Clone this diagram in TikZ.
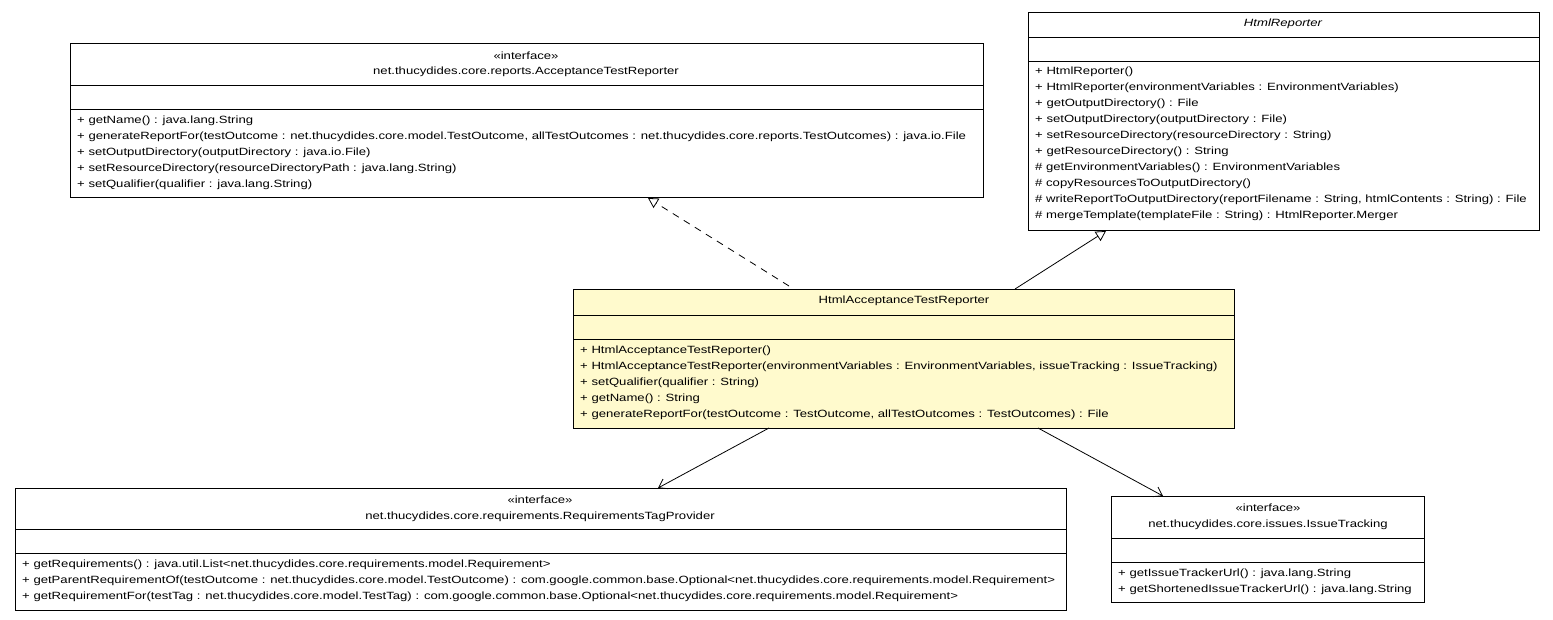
\documentclass[tikz,border=0pt]{standalone}
\usepackage{fontspec}
\setmainfont{Liberation Sans}[FakeStretch=1.25]
\usetikzlibrary{arrows.meta}
\definecolor{cls}{RGB}{255,250,205}
\begin{document}
\begin{tikzpicture}[x=1pt,y=-1pt,
  box/.style={draw,line width=1pt,anchor=north west,inner sep=0pt},
  t/.style={inner sep=0pt,font=\fontsize{10.5}{12}\selectfont},
  m/.style={t,anchor=west},
  dep/.style={-{Straight Barb[length=8pt,width=11pt]},line width=0.8pt},
  gen/.style={-{Triangle[open,length=10pt,width=11pt]},line width=0.8pt}]
\useasboundingbox (0,0) rectangle (1553,619);
% Box 1
\node[box,minimum width=913,minimum height=154] (a) at (70,43) {};
\draw (70,85) -- (983,85) (70,109) -- (983,109);
\node[t] (a1) at (526,56) {«interface»};
\node[t] (a2) at (526,72) {net.thucydides.core.reports.AcceptanceTestReporter};
\node[m] at (77,121) {+ getName() : java.lang.String};
\node[m] at (77,137) {+ generateReportFor(testOutcome : net.thucydides.core.model.TestOutcome, allTestOutcomes : net.thucydides.core.reports.TestOutcomes) : java.io.File};
\node[m] at (77,153) {+ setOutputDirectory(outputDirectory : java.io.File)};
\node[m] at (77,169) {+ setResourceDirectory(resourceDirectoryPath : java.lang.String)};
\node[m] at (77,185) {+ setQualifier(qualifier : java.lang.String)};
% Box 2
\node[box,minimum width=511,minimum height=218] (b) at (1028,12) {};
\draw (1028,37) -- (1539,37) (1028,61) -- (1539,61);
\node[t] at (1283,24) {\itshape HtmlReporter};
\node[m] at (1035,72) {+ HtmlReporter()};
\node[m] at (1035,88) {+ HtmlReporter(environmentVariables : EnvironmentVariables)};
\node[m] at (1035,104) {+ getOutputDirectory() : File};
\node[m] at (1035,120) {+ setOutputDirectory(outputDirectory : File)};
\node[m] at (1035,136) {+ setResourceDirectory(resourceDirectory : String)};
\node[m] at (1035,152) {+ getResourceDirectory() : String};
\node[m] at (1035,168) {\# getEnvironmentVariables() : EnvironmentVariables};
\node[m] at (1035,184) {\# copyResourcesToOutputDirectory()};
\node[m] at (1035,200) {\# writeReportToOutputDirectory(reportFilename : String, htmlContents : String) : File};
\node[m] at (1035,216) {\# mergeTemplate(templateFile : String) : HtmlReporter.Merger};
% Box 3
\node[box,fill=cls,minimum width=661,minimum height=139] (c) at (573,289) {};
\draw (573,315) -- (1234,315) (573,339) -- (1234,339);
\node[t] at (904,301) {HtmlAcceptanceTestReporter};
\node[m] at (580,351) {+ HtmlAcceptanceTestReporter()};
\node[m] at (580,367) {+ HtmlAcceptanceTestReporter(environmentVariables : EnvironmentVariables, issueTracking : IssueTracking)};
\node[m] at (580,383) {+ setQualifier(qualifier : String)};
\node[m] at (580,399) {+ getName() : String};
\node[m] at (580,415) {+ generateReportFor(testOutcome : TestOutcome, allTestOutcomes : TestOutcomes) : File};
% Box 4
\node[box,minimum width=1051,minimum height=122] (d) at (15,488) {};
\draw (15,529) -- (1066,529) (15,553) -- (1066,553);
\node[t] at (540,500) {«interface»};
\node[t] at (540,517) {net.thucydides.core.requirements.RequirementsTagProvider};
\node[m] at (22,565) {+ getRequirements() : java.util.List<net.thucydides.core.requirements.model.Requirement>};
\node[m] at (22,581) {+ getParentRequirementOf(testOutcome : net.thucydides.core.model.TestOutcome) : com.google.common.base.Optional<net.thucydides.core.requirements.model.Requirement>};
\node[m] at (22,597) {+ getRequirementFor(testTag : net.thucydides.core.model.TestTag) : com.google.common.base.Optional<net.thucydides.core.requirements.model.Requirement>};
% Box 5
\node[box,minimum width=313,minimum height=106] (e) at (1111,496) {};
\draw (1111,538) -- (1424,538) (1111,562) -- (1424,562);
\node[t] at (1268,508) {«interface»};
\node[t] at (1268,525) {net.thucydides.core.issues.IssueTracking};
\node[m] at (1118,574) {+ getIssueTrackerUrl() : java.lang.String};
\node[m] at (1118,590) {+ getShortenedIssueTrackerUrl() : java.lang.String};
% connectors
\coordinate (c1) at (789,286);
\coordinate (a0) at (648,198);
\coordinate (c2) at (1015,289);
\coordinate (b0) at (1106,231);
\coordinate (c3) at (769,428);
\coordinate (d0) at (658,488);
\coordinate (c4) at (1038,428);
\coordinate (e0) at (1163,496);
\draw[gen,dash pattern=on 7pt off 6pt] (c1) -- (a0);
\draw[gen] (c2) -- (b0);
\draw[dep] (c3) -- (d0);
\draw[dep] (c4) -- (e0);
\end{tikzpicture}
\end{document}
